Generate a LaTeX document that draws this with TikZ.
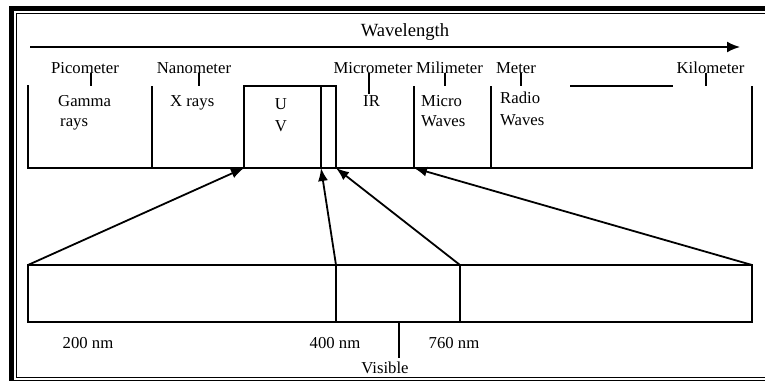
\documentclass[tikz,border=0pt]{standalone}
\usepackage{fontspec}
\setmainfont{Liberation Serif}
\usetikzlibrary{arrows.meta}

\tikzset{
  lbl/.style={font=\fontsize{16.7}{20}\selectfont, inner sep=0pt},
  ticker/.style={line width=1.1pt},
  boxline/.style={line width=1.6pt},
  zoomarrow/.style={line width=1.8pt, -{Latex[length=13pt,width=10pt]}},
}

\begin{document}
\begin{tikzpicture}[x=1pt,y=-1pt]
    \useasboundingbox (0,0) rectangle (765,383);

    % Draw frame
    \draw[line width=5pt] (790,8.5) -| (11.5,381);
    \draw[line width=0.9pt] (790,13.5) -| (16,377.5) -- (790,377.5);
    \draw[line width=0.9pt] (11.5,380.5) -- (790,380.5);

    % Wavelength axis
    \node[lbl, font=\fontsize{18.6}{22}\selectfont, anchor=base] (wl) at (405,36) {Wavelength};
    \coordinate (axL) at (30,47);
    \coordinate (axR) at (740,47);
    \draw[line width=1.8pt, -{Latex[length=13pt,width=11pt]}] (axL) -- (axR);

    % Scale labels and their ticks
    \foreach \nm/\cx/\txt/\dx/\len in {pico/85/Picometer/6/13, nano/194/Nanometer/5/13,
        micro/373/Micrometer/-4/21, milli/449.5/Milimeter/-4.5/13,
        meter/516/Meter/5/13, kilo/710.5/Kilometer/-4.5/13}{
      \node[lbl, anchor=base] (\nm) at (\cx,73) {\txt};
      \draw[ticker] ([xshift=\dx pt]\nm.south) -- ++(0,\len);
    }
    \draw[boxline] (570,86) -- (673,86);

    % Spectrum box
    \draw[boxline] (28,85) -- (28,168) -- (752,168) -- (752,86);
    \foreach \x in {152,414,491}
      \draw[boxline] (\x,86) -- (\x,168);
    \draw[boxline] (244,168) -- (244,86) -- (336,86) -- (336,168);
    \draw[boxline] (321,86) -- (321,168);
    \coordinate (uvL) at (244,168);
    \coordinate (uvM) at (321,168);
    \coordinate (uvR) at (336,168);
    \coordinate (mwL) at (414,168);

    % Region names
    \node[lbl, anchor=base west] (gamma) at (58,106) {Gamma};
    \node[lbl, anchor=base west] (gammab) at (60,126) {rays};
    \node[lbl, anchor=base west] (xray) at (170,106) {X rays};
    \node[lbl, anchor=base] (uvU) at (281,109) {U};
    \node[lbl, anchor=base] (uvV) at (281,131) {V};
    \node[lbl, anchor=base west] (ir) at (363,106) {IR};
    \node[lbl, anchor=base west] (mw) at (421,106) {Micro};
    \node[lbl, anchor=base west] (mwb) at (421,126) {Waves};
    \node[lbl, anchor=base west] (rd) at (500,103) {Radio};
    \node[lbl, anchor=base west] (rdb) at (500,125) {Waves};

    % Expanded band
    \coordinate (bTL) at (28,265);
    \coordinate (bD1) at (336,265);
    \coordinate (bD2) at (460,265);
    \coordinate (bTR) at (752,265);
    \draw[boxline] (bTL) rectangle (752,322);
    \draw[boxline] (bD1) -- (336,322);
    \draw[boxline] (bD2) -- (460,322);

    % Zoom arrows
    \draw[zoomarrow] (bTL) -- (uvL);
    \draw[zoomarrow] (bD1) -- (uvM);
    \draw[zoomarrow] (bD2) -- (uvR);
    \draw[zoomarrow] (bTR) -- (mwL);

    % Band labels
    \node[lbl, anchor=base] (nm200) at (88,348) {200 nm};
    \node[lbl, anchor=base] (nm400) at (335,348) {400 nm};
    \node[lbl, anchor=base] (nm760) at (454,348) {760 nm};
    \node[lbl, anchor=base] (vis) at (385,373) {Visible};
    \coordinate (visTop) at (399,322);
    \draw[ticker] (visTop) -- (399,358);
\end{tikzpicture}
\end{document}
